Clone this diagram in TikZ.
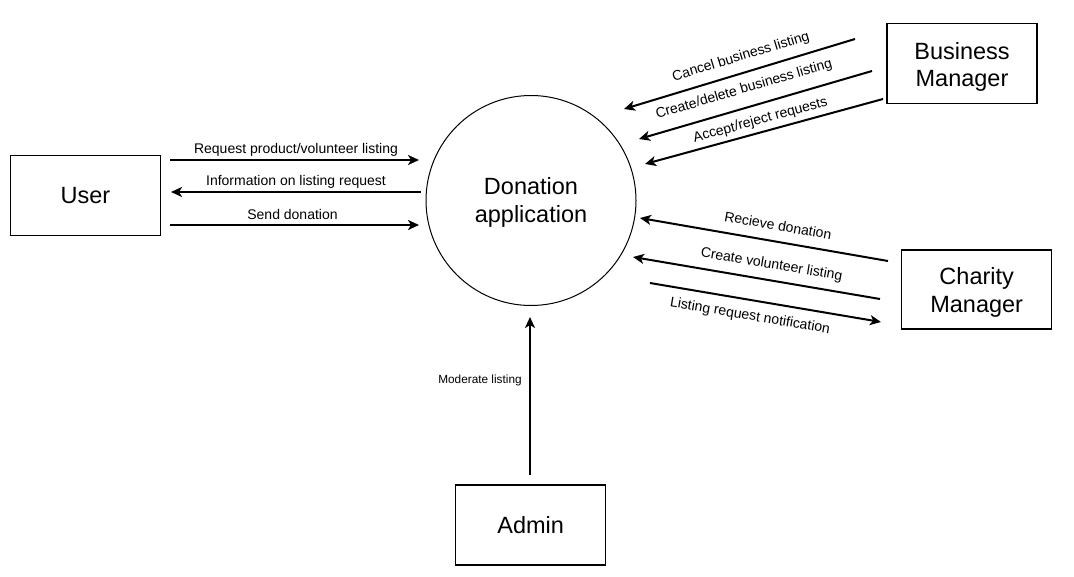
\documentclass[tikz,border=0pt]{standalone}
\usepackage{fontspec}
\setmainfont{Liberation Sans}
\usetikzlibrary{arrows.meta}
\begin{document}
\begin{tikzpicture}[x=1pt,y=-1pt,
  box/.style={draw, line width=1.3pt, minimum width=150pt, minimum height=80pt, font=\fontsize{23.5}{27.5}\selectfont, align=center, inner sep=0pt},
  boxtxt/.style={font=\fontsize{23.5}{27.5}\selectfont, align=center, inner sep=0pt},
  proc/.style={draw, circle, line width=1pt, minimum size=210pt, inner sep=0pt},
  flow/.style={line width=2pt, -{Stealth[length=11pt,width=10pt,inset=3pt]}},
  lbl/.style={font=\fontsize{14}{16}\selectfont, inner sep=0pt},
  slbl/.style={font=\fontsize{11.8}{14}\selectfont, inner sep=0pt},
]
\useasboundingbox (0,0) rectangle (1074,576);
% entities
\node[box] (user) at (85.5,195.5) {User};
\node[box, label={[boxtxt, yshift=-3pt]center:Business\\Manager}] (bm) at (962,63.7) {};
\node[box, minimum height=79pt, label={[boxtxt, yshift=-3pt]center:Charity\\Manager}] (cm) at (976.7,289.5) {};
\node[box] (admin) at (530.7,525) {Admin};
\node[proc, label={[boxtxt, font=\fontsize{23.5}{28}\selectfont, yshift=-2pt]center:Donation\\application}] (app) at (531,200.5) {};
% arrow end points
\coordinate (u1s) at (170,160); \coordinate (u1e) at (419,160);
\coordinate (u2s) at (421,192); \coordinate (u2e) at (171,192);
\coordinate (u3s) at (170,225); \coordinate (u3e) at (419,225);
\coordinate (b1s) at (855,39);  \coordinate (b1e) at (624,109);
\coordinate (b2s) at (872,71);  \coordinate (b2e) at (639,139);
\coordinate (b3s) at (883,99);  \coordinate (b3e) at (645,164);
\coordinate (c1s) at (888,261); \coordinate (c1e) at (640,218);
\coordinate (c2s) at (880,299); \coordinate (c2e) at (633,257);
\coordinate (c3s) at (650,283); \coordinate (c3e) at (881,322);
\coordinate (as) at (530,475);  \coordinate (ae) at (530,317);
% flows
\draw[flow] (u1s) -- (u1e);
\draw[flow] (u2s) -- (u2e);
\draw[flow] (u3s) -- (u3e);
\draw[flow] (b1s) -- (b1e);
\draw[flow] (b2s) -- (b2e);
\draw[flow] (b3s) -- (b3e);
\draw[flow] (c1s) -- (c1e);
\draw[flow] (c2s) -- (c2e);
\draw[flow] (c3s) -- (c3e);
\draw[flow] (as) -- (ae);
% labels
\node[lbl] (l1) at (296,150) {Request product/volunteer listing};
\node[lbl] (l2) at (296,181.5) {Information on listing request};
\node[lbl] (l3) at (292.5,214.5) {Send donation};
\node[lbl, rotate=16.9] (l4) at (741,57) {Cancel business listing};
\node[lbl, rotate=16.3] (l5) at (744,89.5) {Create/delete business listing};
\node[lbl, rotate=15.3] (l6) at (760.5,120.5) {Accept/reject requests};
\node[lbl, rotate=-9.8] (l7) at (778,225.5) {Recieve donation};
\node[lbl, rotate=-9.6] (l8) at (771.5,265) {Create volunteer listing};
\node[lbl, rotate=-9.6] (l9) at (750,316.5) {Listing request notification};
\node[slbl] (l10) at (480,380) {Moderate listing};
\end{tikzpicture}
\end{document}
